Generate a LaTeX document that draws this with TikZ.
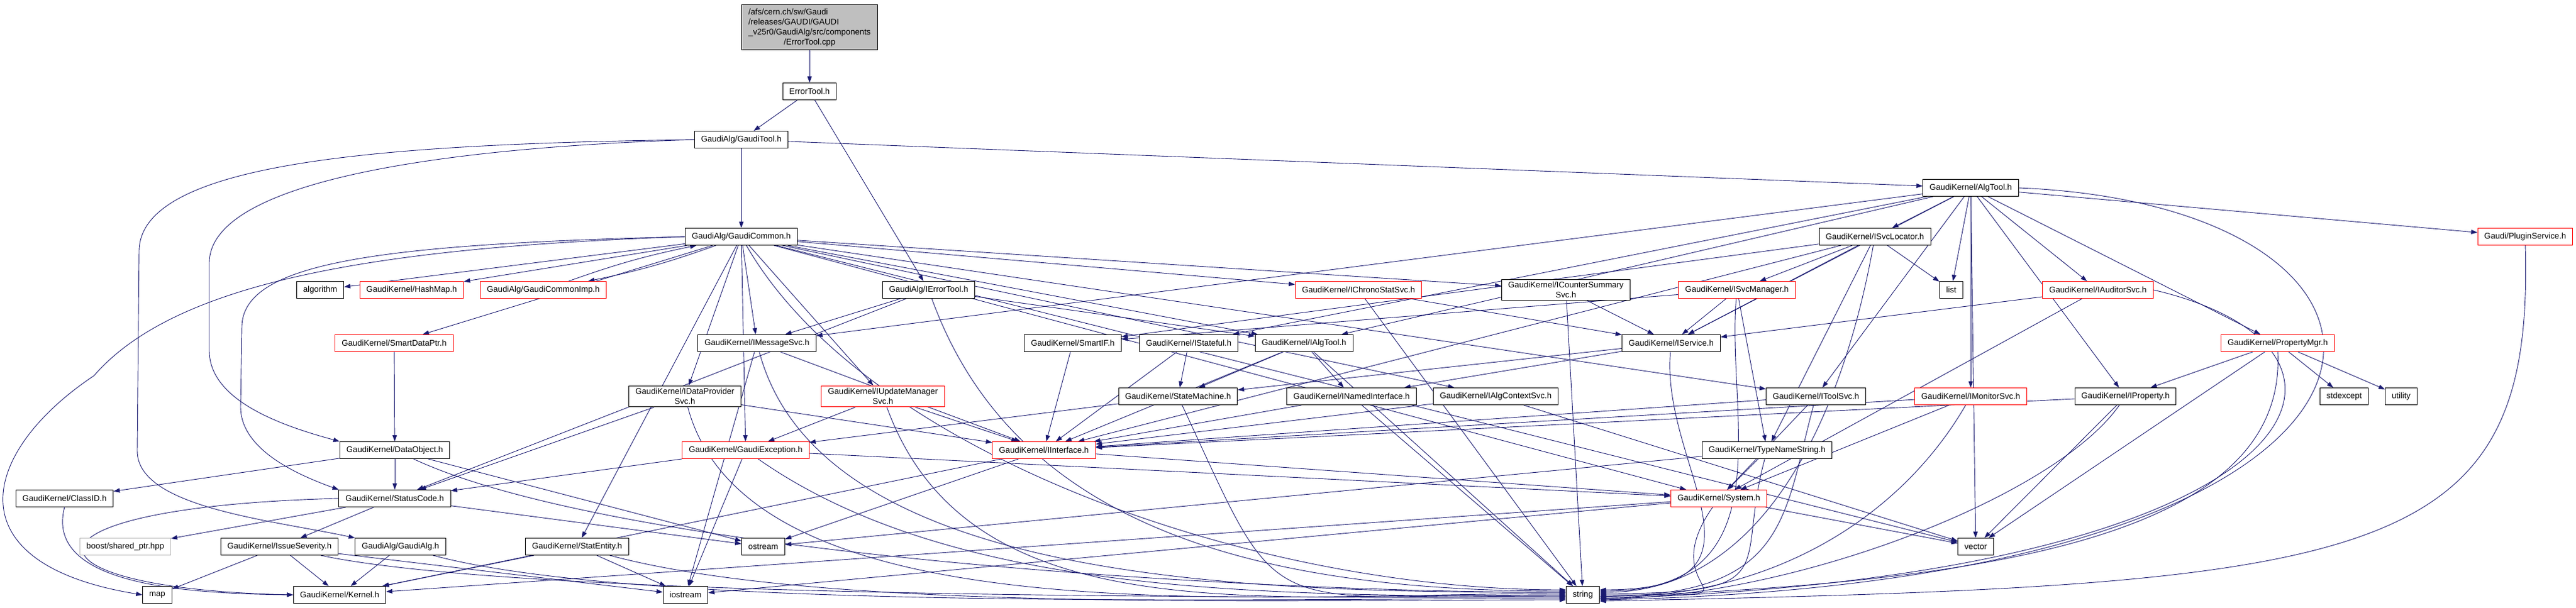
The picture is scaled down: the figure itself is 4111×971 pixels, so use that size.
\documentclass[tikz,border=0pt]{standalone}
\usepackage{fontspec}
\setmainfont{Liberation Sans}
\usetikzlibrary{arrows.meta}
\definecolor{edgeblue}{HTML}{191970}
\definecolor{rootgray}{HTML}{BFBFBF}
\pgfdeclarelayer{edges}
\pgfsetlayers{edges,main}
\tikzset{
  hfile/.style={draw=black, fill=white, line width=1pt, inner xsep=10.5pt, inner ysep=4pt, minimum height=27pt, align=center, font=\fontsize{13.2}{16}\selectfont},
  undoc/.style={hfile, draw=red},
  extfile/.style={hfile, draw=gray!55},
  rootfile/.style={hfile, fill=rootgray},
  dep/.style={draw=edgeblue, line width=0.9pt, -{Triangle[length=10pt,width=7pt]}}
}
\begin{document}
\begin{tikzpicture}[x=1pt,y=1pt]
\useasboundingbox (0,0) rectangle (4111,-971);
\node[rootfile] (root) at (1292,-44) {\begin{tabular}{@{}l@{}}/afs/cern.ch/sw/Gaudi\\/releases/GAUDI/GAUDI\\\_v25r0/GaudiAlg/src/components\\\multicolumn{1}{@{}c@{}}{/ErrorTool.cpp}\end{tabular}};
\node[hfile] (errtool) at (1292,-146) {ErrorTool.h};
\node[hfile] (gtool) at (1183,-223) {GaudiAlg/GaudiTool.h};
\node[hfile] (algtool) at (3145,-300) {GaudiKernel/AlgTool.h};
\node[hfile] (gcommon) at (1183,-378) {GaudiAlg/GaudiCommon.h};
\node[hfile] (isvcloc) at (2992,-378) {GaudiKernel/ISvcLocator.h};
\node[undoc] (plugin) at (4030,-378) {Gaudi/PluginService.h};
\node[hfile] (algorithm) at (511,-463) {algorithm};
\node[undoc] (hashmap) at (657,-463) {GaudiKernel/HashMap.h};
\node[undoc] (gcimp) at (867,-463) {GaudiAlg/GaudiCommonImp.h};
\node[hfile] (ierrtool) at (1482,-463) {GaudiAlg/IErrorTool.h};
\node[undoc] (ichrono) at (2168,-463) {GaudiKernel/IChronoStatSvc.h};
\node[hfile] (icounter) at (2499,-463) {GaudiKernel/ICounterSummary\\Svc.h};
\node[undoc] (isvcmgr) at (2772,-463) {GaudiKernel/ISvcManager.h};
\node[hfile] (list) at (3114,-463) {list};
\node[undoc] (iaudit) at (3348,-463) {GaudiKernel/IAuditorSvc.h};
\node[undoc] (sdptr) at (629,-548) {GaudiKernel/SmartDataPtr.h};
\node[hfile] (imsg) at (1208,-548) {GaudiKernel/IMessageSvc.h};
\node[hfile] (smartif) at (1712,-548) {GaudiKernel/SmartIF.h};
\node[hfile] (istateful) at (1897,-548) {GaudiKernel/IStateful.h};
\node[hfile] (ialgtool) at (2081,-548) {GaudiKernel/IAlgTool.h};
\node[hfile] (iservice) at (2667,-548) {GaudiKernel/IService.h};
\node[undoc] (propmgr) at (3635,-548) {GaudiKernel/PropertyMgr.h};
\node[hfile] (idp) at (1093,-633) {GaudiKernel/IDataProvider\\Svc.h};
\node[undoc] (iupd) at (1409,-633) {GaudiKernel/IUpdateManager\\Svc.h};
\node[hfile] (statem) at (1880,-633) {GaudiKernel/StateMachine.h};
\node[hfile] (inamed) at (2157,-633) {GaudiKernel/INamedInterface.h};
\node[hfile] (ialgctx) at (2387,-633) {GaudiKernel/IAlgContextSvc.h};
\node[hfile] (itoolsvc) at (2898,-633) {GaudiKernel/IToolSvc.h};
\node[undoc] (imonitor) at (3145,-633) {GaudiKernel/IMonitorSvc.h};
\node[hfile] (iprop) at (3392,-633) {GaudiKernel/IProperty.h};
\node[hfile] (stdexcept) at (3741,-633) {stdexcept};
\node[hfile] (utility) at (3832,-633) {utility};
\node[hfile] (dataobj) at (630,-719) {GaudiKernel/DataObject.h};
\node[undoc] (gexc) at (1190,-719) {GaudiKernel/GaudiException.h};
\node[undoc] (iiface) at (1666,-719) {GaudiKernel/IInterface.h};
\node[hfile] (tns) at (2820,-719) {GaudiKernel/TypeNameString.h};
\node[hfile] (classid) at (103,-796) {GaudiKernel/ClassID.h};
\node[hfile] (statcode) at (630,-796) {GaudiKernel/StatusCode.h};
\node[undoc] (system) at (2743,-796) {GaudiKernel/System.h};
\node[extfile] (boostsp) at (200,-873) {boost/shared\_ptr.hpp};
\node[hfile] (issue) at (446,-873) {GaudiKernel/IssueSeverity.h};
\node[hfile] (galg) at (639,-873) {GaudiAlg/GaudiAlg.h};
\node[hfile] (statent) at (921,-873) {GaudiKernel/StatEntity.h};
\node[hfile] (ostream) at (1218,-873) {ostream};
\node[hfile] (vector) at (3153,-873) {vector};
\node[hfile] (map) at (251,-950) {map};
\node[hfile] (kernel) at (542,-950) {GaudiKernel/Kernel.h};
\node[hfile] (iostream) at (1094,-950) {iostream};
\node[hfile] (string) at (2526,-950) {string};
\begin{pgfonlayer}{edges}
\foreach \src/\dst in {root/errtool, errtool/gtool, errtool/ierrtool, gtool/gcommon, gtool/algtool,
    gcommon/algorithm, gcommon/hashmap, gcommon/sdptr, gcommon/imsg, gcommon/idp, gcommon/iupd,
    gcommon/ichrono, gcommon/icounter, gcommon/ialgtool, gcommon/ialgctx, gcommon/itoolsvc,
    gcommon/statent, gcommon/gexc, gcommon/system, gcommon/vector,
    ierrtool/imsg, ierrtool/ialgtool, ierrtool/statcode,
    algtool/isvcloc, algtool/plugin, algtool/list, algtool/iaudit, algtool/propmgr, algtool/imonitor,
    algtool/iprop, algtool/itoolsvc, algtool/iservice, algtool/ialgtool, algtool/istateful,
    algtool/imsg, algtool/vector,
    isvcloc/isvcmgr, isvcloc/list, isvcloc/tns, isvcloc/smartif, isvcloc/iiface,
    isvcloc/iservice, isvcmgr/iservice, isvcmgr/smartif, isvcmgr/tns,
    iaudit/iservice, iaudit/system,
    propmgr/iprop, propmgr/stdexcept, propmgr/utility, propmgr/vector,
    iprop/iiface, iprop/vector, imonitor/iiface, imonitor/system,
    itoolsvc/iiface, itoolsvc/system, ichrono/iservice, icounter/iservice,
    iservice/inamed, iservice/statem, inamed/iiface,
    ialgctx/iiface, ialgctx/vector, ialgtool/iiface, ialgtool/statem, ialgtool/inamed,
    istateful/iiface, istateful/statem, statem/gexc, smartif/iiface,
    imsg/iiface, imsg/iostream, idp/iiface, idp/statcode,
    iupd/iiface, iupd/gexc,
    sdptr/dataobj, dataobj/classid, dataobj/statcode, dataobj/ostream,
    statcode/boostsp, statcode/issue, statcode/ostream,
    issue/map, issue/kernel, issue/iostream, galg/kernel,
    statent/kernel, statent/iostream,
    gexc/statcode, gexc/system, gexc/iostream,
    iiface/kernel, iiface/system, iiface/ostream, tns/system, tns/ostream,
    system/kernel, system/vector, system/iostream}
  \draw[dep] (\src) -- (\dst);
\foreach \src/\ang/\dy in {gcommon/-60/8, ierrtool/-70/6, imsg/-75/4, idp/-75/2, iupd/-70/0,
    statem/-65/-2, dataobj/-25/4, issue/-12/-4, galg/-15/-6, statent/-15/-8, gexc/-35/-2}
  \draw[dep] (\src) .. controls +(\ang:400) and +(-500,0) .. ([yshift=\dy pt]string.west);
\foreach \src in {ichrono, icounter, inamed, ialgtool}
  \draw[dep] (\src) -- (string);
\foreach \src/\ang/\dy in {iservice/-95/8, isvcmgr/-95/6, isvcloc/-100/4, tns/-105/2, system/-125/0,
    itoolsvc/-105/-2, imonitor/-120/-4, iprop/-125/-6}
  \draw[dep] (\src) .. controls +(\ang:200) and +(300,0) .. ([yshift=\dy pt]string.east);
\draw[dep] (gcommon) to[bend left=4] (gcimp);
\draw[dep] (gcimp) to[bend left=4] (gcommon);
\draw[dep] (gtool.west) .. controls (600,-230) and (225,-260) .. (222,-400) -- (219,-720)
  .. controls (219,-810) and (430,-830) .. (galg.north west);
\draw[dep] (gtool.west) .. controls (700,-236) and (334,-290) .. (334,-420) -- (334,-560)
  .. controls (334,-640) and (450,-680) .. (dataobj.north west);
\draw[dep] (gcommon.west) .. controls (600,-395) and (280,-450) .. (150,-600)
  .. controls (-30,-720) and (-80,-900) .. (map.west);
\draw[dep] (gcommon.west) .. controls (600,-390) and (390,-420) .. (386,-520) -- (384,-650)
  .. controls (384,-720) and (480,-760) .. (statcode.north west);
\draw[dep] (statcode.west) .. controls (0,-810) and (20,-940) .. (kernel.west);
\draw[dep] (classid.south) .. controls (70,-935) and (300,-948) .. (kernel.west);
\draw[dep] (algtool.east) .. controls (3950,-330) and (3960,-930) .. ([yshift=-8pt]string.east);
\draw[dep] (plugin.south) .. controls (4045,-900) and (3800,-935) .. ([yshift=-10pt]string.east);
\draw[dep] (propmgr.south) .. controls (3650,-850) and (3200,-930) .. ([yshift=-3pt]string.east);
\draw[dep] (iaudit.east) .. controls (3850,-560) and (3700,-920) .. ([yshift=-6pt]string.east);
\end{pgfonlayer}
\end{tikzpicture}
\end{document}
